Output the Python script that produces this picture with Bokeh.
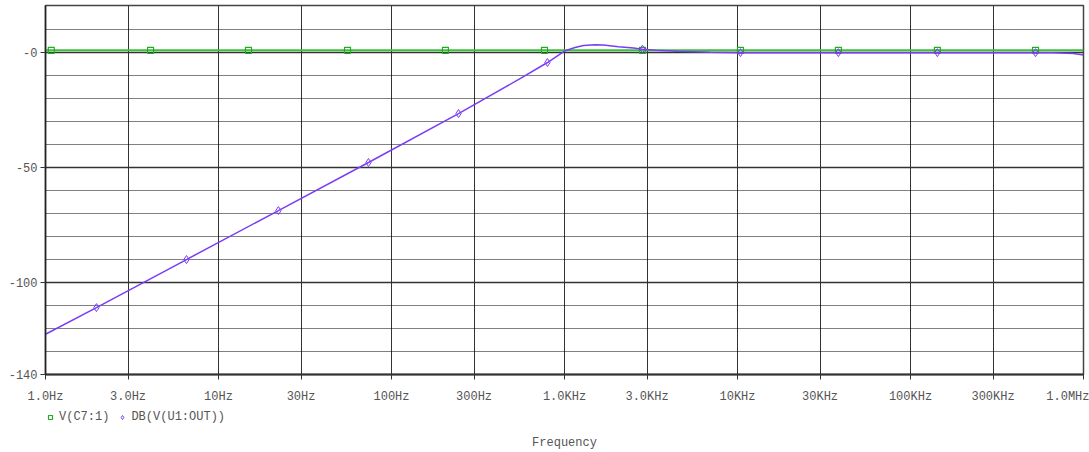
from bokeh.plotting import figure
from bokeh.layouts import column
from bokeh.models import Range1d, FixedTicker, Legend, LegendItem
from bokeh.embed import file_html
from bokeh.resources import INLINE

# ---- axis ticks / labels ----
x_ticks = [1, 3, 10, 30, 100, 300, 1000, 3000, 10000, 30000, 100000, 300000, 1000000]
x_tick_labels = ["1.0Hz", "3.0Hz", "10Hz", "30Hz", "100Hz", "300Hz", "1.0KHz",
                 "3.0KHz", "10KHz", "30KHz", "100KHz", "300KHz", "1.0MHz"]
y_ticks = [-140, -100, -50, 0]
y_tick_labels = ["-140", "-100", "-50", "-0"]
y_grid_major = [-100, -50, 0]
y_grid_minor = [-130, -120, -110, -90, -80, -70, -60, -40, -30, -20, -10, 10]

# ---- series: V(C7:1) ----
vc7_freq = [1, 1000000]
vc7_val = [1.0, 1.0]
vc7_marker_freq = [1.08, 4.05, 14.9, 55.7, 205, 766, 2823, 10400, 38300, 143000, 528000]
vc7_marker_val = [1.0, 1.0, 1.0, 1.0, 1.0, 1.0, 1.0, 1.0, 1.0, 1.0, 1.0]

# ---- series: DB(V(U1:OUT)) ----
db_freq = [1, 1.97, 6.53, 22.2, 73.6, 244, 557, 797, 1000, 1150, 1288, 1500, 1680,
           2052, 2505, 2823, 3358, 4500, 6983, 10400, 38300, 143000, 528000,
           671000, 875000, 1000000]
db_val = [-122.5, -110.9, -90.0, -68.7, -47.8, -26.5, -11.2, -4.3, 0.7, 2.2, 3.1, 3.4, 3.3,
          2.6, 2.0, 1.5, 1.0, 0.6, 0.2, 0.0, 0.0, 0.0, 0.0,
          -0.1, -0.4, -1.0]
db_marker_freq = [1.97, 6.53, 22.2, 73.6, 244, 797, 2823, 10400, 38300, 143000, 528000]
db_marker_val = [-110.9, -90.0, -68.7, -47.8, -26.5, -4.3, 1.5, 0.0, 0.0, 0.0, 0.0]

legend_labels = ["V(C7:1)", "DB(V(U1:OUT))"]
x_caption = "Frequency"

FONT = "Liberation Mono"
TXT = "#555555"
GREEN = "#3cc03c"
GREEN_MK = "#22aa22"
PURPLE = "#7a3cf5"

# ================= main plot =================
p = figure(width=1089, height=406, x_axis_type="log",
           x_range=Range1d(1, 1000000), y_range=Range1d(-140, 20.5),
           output_backend="svg", toolbar_location=None,
           min_border_left=45, min_border_right=6, min_border_top=5,
           min_border_bottom=32)
p.background_fill_color = "white"
p.border_fill_color = "white"
p.outline_line_color = "#444444"
p.outline_line_width = 1.5

p.xgrid.ticker = FixedTicker(ticks=x_ticks)
p.xgrid.grid_line_color = "#333333"
p.xgrid.grid_line_width = 1
p.ygrid.ticker = FixedTicker(ticks=y_grid_major, minor_ticks=y_grid_minor)
p.ygrid.grid_line_color = "#333333"
p.ygrid.grid_line_width = 1.6
p.ygrid.minor_grid_line_color = "#000000"
p.ygrid.minor_grid_line_dash = "1 1"
p.ygrid.minor_grid_line_width = 1

xa = p.xaxis[0]
xa.ticker = FixedTicker(ticks=x_ticks)
xa.major_label_overrides = dict(zip(x_ticks, x_tick_labels))
xa.major_tick_out = 5
xa.major_tick_in = 0
xa.minor_tick_line_color = None
xa.axis_line_color = "#333333"
xa.axis_line_width = 2
xa.major_tick_line_color = "#333333"
xa.major_label_text_font = FONT
xa.major_label_text_font_size = "12px"
xa.major_label_text_color = TXT
xa.major_label_standoff = 10

ya = p.yaxis[0]
ya.ticker = FixedTicker(ticks=y_ticks)
ya.major_label_overrides = dict(zip(y_ticks, y_tick_labels))
ya.major_tick_out = 5
ya.major_tick_in = 0
ya.minor_tick_line_color = None
ya.axis_line_color = "#222222"
ya.axis_line_width = 1.5
ya.major_tick_line_color = "#333333"
ya.major_label_text_font = FONT
ya.major_label_text_font_size = "12px"
ya.major_label_text_color = TXT
ya.major_label_standoff = 3

p.line(vc7_freq, vc7_val, line_color=GREEN, line_width=2)
p.scatter(vc7_marker_freq, vc7_marker_val, marker="square", size=6,
          fill_color=None, line_color=GREEN_MK, line_width=1.2)
p.line(db_freq, db_val, line_color=PURPLE, line_width=1.5)
p.scatter(db_marker_freq, db_marker_val, marker="diamond", size=8,
          fill_color=None, line_color=PURPLE, line_width=1)

# ================= legend / caption strip =================
# shares the x range; its y range lies outside the data, so the series
# renderers below only serve as legend swatches
q = figure(width=1089, height=46, x_axis_type="log", x_range=p.x_range,
           y_range=Range1d(100, 200), output_backend="svg", toolbar_location=None,
           min_border_left=45, min_border_right=6, min_border_top=0,
           min_border_bottom=21)
q.outline_line_color = None
q.grid.visible = False
q.yaxis.visible = False
q.background_fill_color = "white"
q.border_fill_color = "white"

qa = q.xaxis[0]
qa.ticker = FixedTicker(ticks=[])
qa.axis_line_color = None
qa.major_tick_line_color = None
qa.minor_tick_line_color = None
qa.major_label_text_font_size = "0px"
qa.axis_label = x_caption
qa.axis_label_text_font = FONT
qa.axis_label_text_font_size = "12px"
qa.axis_label_text_font_style = "normal"
qa.axis_label_text_color = TXT
qa.axis_label_standoff = 4

g_sw = q.scatter(vc7_marker_freq, vc7_marker_val, marker="square", size=6,
                 fill_color=None, line_color=GREEN_MK, line_width=1.2)
d_sw = q.scatter(db_marker_freq, db_marker_val, marker="diamond", size=8,
                 fill_color=None, line_color=PURPLE, line_width=1)

legend = Legend(items=[LegendItem(label=legend_labels[0], renderers=[g_sw]),
                       LegendItem(label=legend_labels[1], renderers=[d_sw])],
                orientation="horizontal", location=(0, 4),
                margin=0, padding=0, spacing=8,
                glyph_width=10, glyph_height=20, label_height=20, label_standoff=4,
                label_text_font=FONT, label_text_font_size="12px",
                label_text_color=TXT, border_line_color=None,
                background_fill_alpha=0)
q.add_layout(legend)

layout = column(p, q, spacing=0)
open("out.html", "w").write(file_html(layout, INLINE))
